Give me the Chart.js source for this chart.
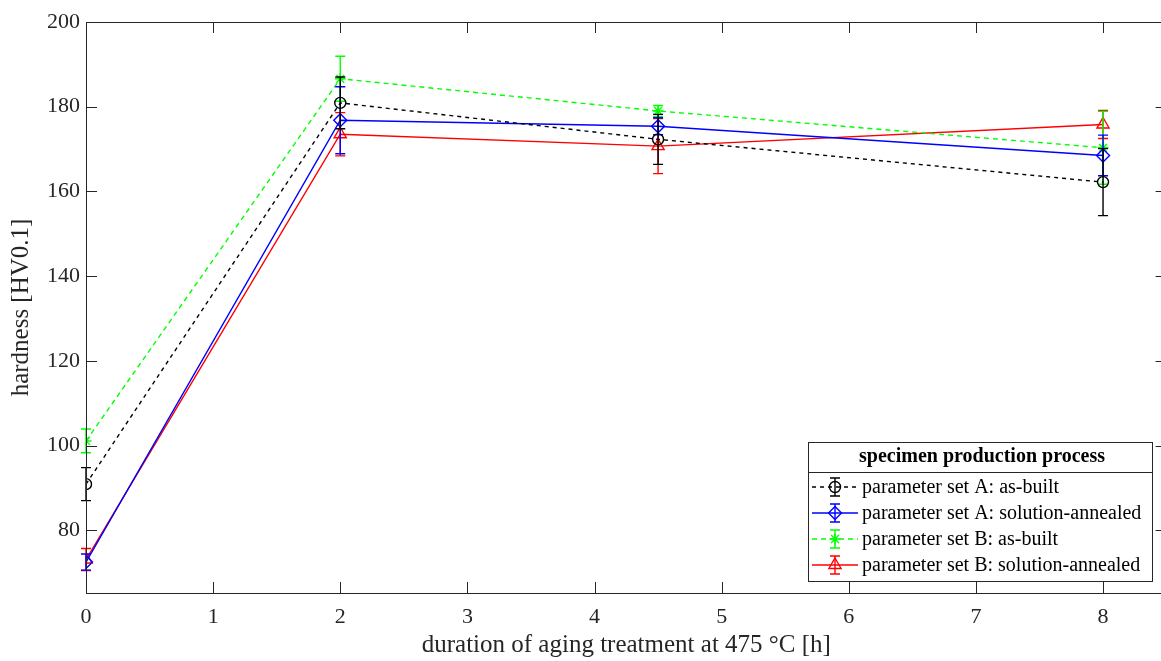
<!DOCTYPE html>
<html>
<head>
<meta charset="utf-8">
<script src="https://cdn.jsdelivr.net/npm/chart.js@4.4.0/dist/chart.umd.min.js"></script>
<style>
  html, body { margin: 0; padding: 0; background: #fff; }
  #wrap { width: 1161px; height: 661px; overflow: hidden; }
  #box { width: 1175px; height: 661px; }
</style>
</head>
<body>
<div id="wrap"><div id="box"><canvas id="hardness"></canvas></div></div>
<script>
// aging duration [h]
const hours = [0, 2, 4.5, 8];

// hardness HV0.1, mean and +/- deviation
const aBuilt = [90.9, 180.9, 172.3, 162.2];
const aBuiltErr = [3.9, 6.1, 5.9, 7.9];
const aAnnealed = [72.5, 176.8, 175.4, 168.5];
const aAnnealedErr = [1.9, 7.9, 2.0, 4.8];
const bBuilt = [101.1, 186.6, 179.0, 170.3];
const bBuiltErr = [2.8, 5.3, 1.3, 8.6];
const bAnnealed = [73.1, 173.5, 170.7, 175.8];
const bAnnealedErr = [2.6, 5.1, 6.5, 3.3];

const seriesNames = [
  "parameter set A: as-built",
  "parameter set A: solution-annealed",
  "parameter set B: as-built",
  "parameter set B: solution-annealed",
];
const legendTitle = "specimen production process";
const xTitle = "duration of aging treatment at 475 °C [h]";
const yTitle = "hardness [HV0.1]";

const xTicks = [0, 1, 2, 3, 4, 5, 6, 7, 8];
const yTicks = [80, 100, 120, 140, 160, 180, 200];

const FONT = "'Liberation Serif', 'DejaVu Serif', serif";
const AXIS = "#262626";
const NONE = "rgba(0,0,0,0)";

const makeSet = (label, vals, errs, color, style, dash, radius) => ({
  label: label,
  data: hours.map((h, i) => ({ x: h, y: vals[i] })),
  errors: errs,
  borderColor: color,
  backgroundColor: NONE,
  borderWidth: 1.4,
  borderDash: dash,
  pointStyle: style,
  pointRadius: radius,
  pointBorderWidth: 1.4,
  pointBorderColor: color,
  pointBackgroundColor: NONE,
  tension: 0,
});

const datasets = [
  makeSet(seriesNames[0], aBuilt, aBuiltErr, "#000000", "circle", [4, 4], 5.5),
  makeSet(seriesNames[1], aAnnealed, aAnnealedErr, "#0000ff", "rectRot", [], 6.5),
  makeSet(seriesNames[2], bBuilt, bBuiltErr, "#00ff00", "star", [5, 4], 5.5),
  makeSet(seriesNames[3], bAnnealed, bAnnealedErr, "#ff0000", "triangle", [], 7),
];

const errorBars = {
  id: "errorBars",
  afterDatasetDraw(chart, args) {
    const ds = chart.data.datasets[args.index];
    const ctx = chart.ctx;
    const xs = chart.scales.x, ys = chart.scales.y;
    ctx.save();
    ctx.strokeStyle = ds.borderColor;
    ctx.lineWidth = 1.4;
    ctx.setLineDash([]);
    ds.data.forEach((p, i) => {
      const px = xs.getPixelForValue(p.x);
      const top = ys.getPixelForValue(p.y + ds.errors[i]);
      const bot = ys.getPixelForValue(p.y - ds.errors[i]);
      ctx.beginPath();
      ctx.moveTo(px, top); ctx.lineTo(px, bot);
      ctx.moveTo(px - 5, top); ctx.lineTo(px + 5, top);
      ctx.moveTo(px - 5, bot); ctx.lineTo(px + 5, bot);
      ctx.stroke();
    });
    ctx.restore();
  }
};

const frame = {
  id: "frame",
  afterDraw(chart) {
    const ctx = chart.ctx;
    const a = chart.chartArea;
    const xs = chart.scales.x, ys = chart.scales.y;
    ctx.save();
    ctx.strokeStyle = AXIS;
    ctx.lineWidth = 1;
    ctx.strokeRect(a.left + 0.5, a.top + 0.5, a.right - a.left, a.bottom - a.top);
    ctx.beginPath();
    xTicks.forEach(v => {
      const px = Math.round(xs.getPixelForValue(v)) + 0.5;
      ctx.moveTo(px, a.bottom); ctx.lineTo(px, a.bottom - 11);
      ctx.moveTo(px, a.top); ctx.lineTo(px, a.top + 11);
    });
    yTicks.forEach(v => {
      const py = Math.round(ys.getPixelForValue(v)) + 0.5;
      ctx.moveTo(a.left, py); ctx.lineTo(a.left + 11, py);
      ctx.moveTo(a.right, py); ctx.lineTo(a.right - 11, py);
    });
    ctx.stroke();

    // axis titles
    ctx.fillStyle = AXIS;
    ctx.font = "25px " + FONT;
    ctx.textAlign = "center";
    ctx.textBaseline = "middle";
    ctx.fillText(xTitle, (a.left + a.right) / 2, 645);
    ctx.save();
    ctx.translate(21, (a.top + a.bottom) / 2);
    ctx.rotate(-Math.PI / 2);
    ctx.fillText(yTitle, 0, 0);
    ctx.restore();

    // legend box
    const L = 808, T = 442, R = 1152, B = 581;
    ctx.fillStyle = "#ffffff";
    ctx.fillRect(L, T, R - L, B - T);
    ctx.strokeStyle = AXIS;
    ctx.strokeRect(L + 0.5, T + 0.5, R - L, B - T);
    ctx.beginPath();
    ctx.moveTo(L, 472.5); ctx.lineTo(R, 472.5);
    ctx.stroke();
    ctx.fillStyle = "#000";
    ctx.font = "bold 20px " + FONT;
    ctx.textAlign = "center";
    ctx.fillText(legendTitle, (L + R) / 2 + 2, 457);
    ctx.font = "20px " + FONT;
    ctx.textAlign = "left";
    chart.data.datasets.forEach((ds, i) => {
      const y = 487 + i * 26;
      ctx.strokeStyle = ds.borderColor;
      ctx.lineWidth = 1.4;
      ctx.setLineDash(ds.borderDash);
      ctx.beginPath();
      ctx.moveTo(812, y); ctx.lineTo(858, y);
      ctx.stroke();
      ctx.setLineDash([]);
      ctx.beginPath();
      ctx.moveTo(835, y - 9); ctx.lineTo(835, y + 9);
      ctx.moveTo(830, y - 9); ctx.lineTo(840, y - 9);
      ctx.moveTo(830, y + 9); ctx.lineTo(840, y + 9);
      ctx.stroke();
      ctx.fillStyle = NONE;
      Chart.helpers.drawPoint(ctx, {
        pointStyle: ds.pointStyle, radius: ds.pointRadius, rotation: 0, borderWidth: 1.4
      }, 835, y);
      ctx.fillStyle = "#000";
      ctx.fillText(ds.label, 862, y + 1);
    });
    ctx.restore();
  }
};

new Chart(document.getElementById("hardness"), {
  type: "line",
  data: { datasets: datasets },
  options: {
    responsive: true,
    maintainAspectRatio: false,
    animation: false,
    layout: { padding: { top: 22, right: 7, left: 0, bottom: 0 } },
    plugins: { legend: { display: false }, tooltip: { enabled: false } },
    scales: {
      x: {
        type: "linear",
        min: 0,
        max: 8.5,
        afterBuildTicks: s => { s.ticks = xTicks.map(v => ({ value: v })); },
        afterFit: s => { s.height = 68; },
        grid: { display: false, drawTicks: false, tickLength: 0 },
        border: { display: false },
        ticks: { color: AXIS, font: { family: FONT, size: 22 }, padding: 11, maxRotation: 0 },
      },
      y: {
        type: "linear",
        min: 65.2,
        max: 200,
        afterBuildTicks: s => { s.ticks = yTicks.map(v => ({ value: v })); },
        afterFit: s => { s.width = 86; },
        grid: { display: false, drawTicks: false, tickLength: 0 },
        border: { display: false },
        ticks: { color: AXIS, font: { family: FONT, size: 22 }, padding: 6 },
      },
    },
  },
  plugins: [errorBars, frame],
});
</script>
</body>
</html>
